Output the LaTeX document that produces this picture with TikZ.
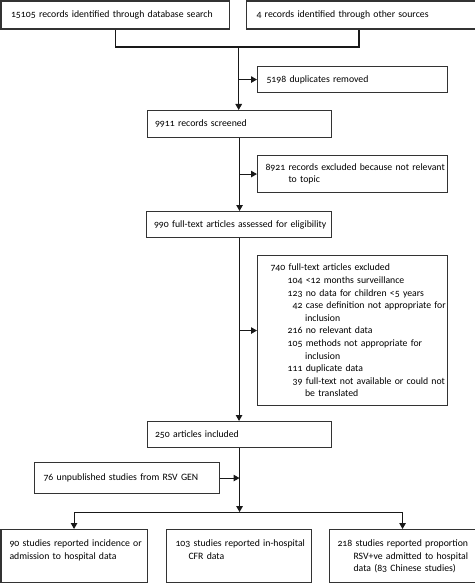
\documentclass[tikz,border=0pt]{standalone}
\usepackage{fontspec}
\setmainfont{Carlito}[Numbers=OldStyle]
\usetikzlibrary{arrows.meta,calc}
\begin{document}
\begin{tikzpicture}[x=1pt,y=-1pt,
  box/.style={draw=black!80, line width=1.1pt, anchor=north west, align=left, inner ysep=0pt,
    font=\fontsize{9.75}{12.6}\selectfont},
  outbox/.style={box, inner ysep=4pt, text height=13pt, text depth=32pt},
  ln/.style={line width=1.1pt, draw=black!90},
  arr/.style={ln, -{Triangle[length=6pt,width=6.5pt]}}]
\useasboundingbox (0,0) rectangle (474,583);
% boxes
\node[box, minimum width=228, minimum height=28, inner xsep=10, text width=208] (b1) at (0.5,0.5)
  {\mbox{15105 records identified through database search}};
\node[box, minimum width=232, minimum height=28, inner xsep=10, text width=212] (b2) at (246,0.5)
  {\mbox{4 records identified through other sources}};
\node[box, minimum width=190, minimum height=26, inner xsep=9, text width=172] (dup) at (257,66)
  {\mbox{5198 duplicates removed}};
\node[box, minimum width=184, minimum height=27, inner xsep=7.5, text width=169] (s9911) at (147,110)
  {\mbox{9911 records screened}};
\node[box, minimum width=190, minimum height=37, inner xsep=8, text width=174] (ex1) at (257,155)
  {\mbox{8921 records excluded because not relevant}\\\mbox{\hspace*{23pt}to topic}};
\node[box, minimum width=185, minimum height=26, inner xsep=7.5, text width=170] (s990) at (146,211)
  {\mbox{990 full-text articles assessed for eligibility}};
\node[box, minimum width=190, minimum height=150, inner xsep=13, text width=164] (ex2) at (257,255)
  {\mbox{740 full-text articles excluded}\\
   \mbox{\makebox[32pt][r]{104}\ <12 months surveillance}\\
   \mbox{\makebox[32pt][r]{123}\ no data for children <5 years}\\
   \mbox{\makebox[32pt][r]{42}\ case definition not appropriate for}\\
   \mbox{\hspace*{34.5pt}inclusion}\\
   \mbox{\makebox[32pt][r]{216}\ no relevant data}\\
   \mbox{\makebox[32pt][r]{105}\ methods not appropriate for}\\
   \mbox{\hspace*{34.5pt}inclusion}\\
   \mbox{\makebox[32pt][r]{111}\ duplicate data}\\
   \mbox{\makebox[32pt][r]{39}\ full-text not available or could not}\\
   \mbox{\hspace*{34.5pt}be translated}};
\node[box, minimum width=184, minimum height=26, inner xsep=7.5, text width=169] (s250) at (147,421)
  {\mbox{250 articles included}};
\node[box, minimum width=185, minimum height=31, inner xsep=9, text width=167] (u76) at (34,462)
  {\mbox{76 unpublished studies from RSV GEN}};
\node[outbox, inner xsep=8.5, text width=129] (oa) at (0.5,529)
  {\mbox{90 studies reported incidence or}\\\mbox{admission to hospital data}};
\node[outbox, inner xsep=9, text width=127] (ob) at (166,529)
  {\mbox{103 studies reported in-hospital}\\\mbox{\hspace*{13pt}CFR data}};
\node[outbox, inner xsep=8, text width=130] (oc) at (329,529)
  {\mbox{218 studies reported proportion}\\\mbox{\hspace*{16pt}RSV+ve admitted to hospital}\\\mbox{\hspace*{16pt}data (83 Chinese studies)}};
% connectors
\coordinate (j1) at (238.7,47);
\draw[ln] (b1.south) |- (j1) -| ($(b2.south west)+(113,0)$);
\draw[arr] (j1) -- (j1 |- s9911.north);
\draw[arr] (j1 |- dup.west) -- (dup.west);
\draw[arr] (s9911.south) -- (s9911.south |- s990.north);
\draw[arr] (s9911.south |- ex1.west) -- (ex1.west);
\draw[arr] (s990.south) -- (s990.south |- s250.north);
\draw[arr] (s990.south |- ex2.west) -- (ex2.west);
\coordinate (j2) at ($(s250.south)+(0,64)$);
\draw[arr] (s250.south) -- (j2);
\draw[arr] (u76.east) -- (u76.east -| j2);
\draw[arr] (j2) -| (oa.north);
\draw[arr] (j2) -| (oc.north);
\end{tikzpicture}
\end{document}
